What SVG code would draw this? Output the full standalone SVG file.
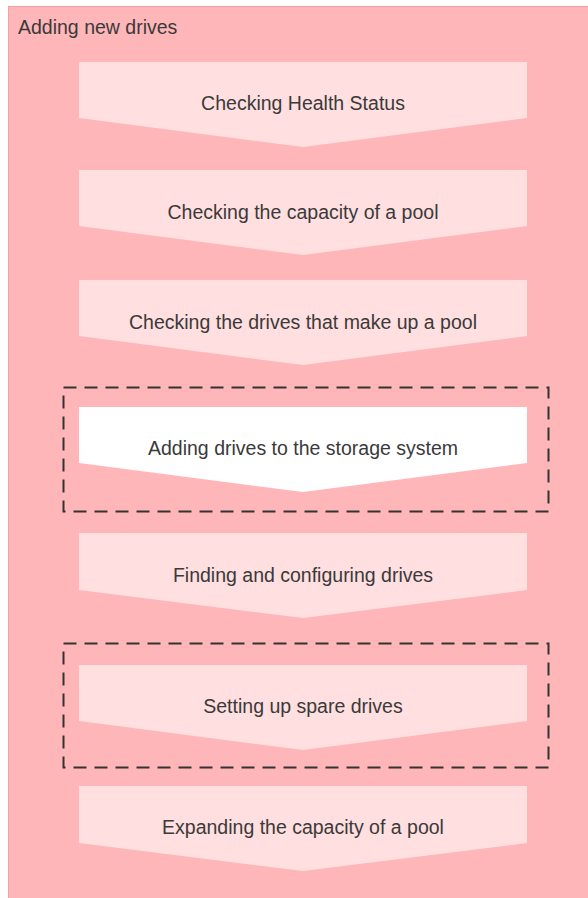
<svg xmlns="http://www.w3.org/2000/svg" width="588" height="898" viewBox="0 0 588 898">
<style>
.t{font-family:"Liberation Sans",Arial,sans-serif;font-size:19.5px;fill:#3a3a3a;text-anchor:middle}
.title{font-family:"Liberation Sans",Arial,sans-serif;font-size:19.5px;fill:#3a3a3a}
.step{fill:#ffdfe0}
.cur{fill:#ffffff}
.dash{fill:none;stroke:#333;stroke-width:2;stroke-dasharray:13,8}
</style>
<rect width="588" height="898" fill="#ffffff"/>
<g id="container">
<rect x="8.5" y="6.5" width="590" height="900" fill="#ffb6b8" stroke="#ff9c9e" stroke-width="1"/>
<text class="title" x="18" y="34">Adding new drives</text>
</g>
<g id="connectors">
<rect class="dash" x="63.5" y="387.5" width="485" height="124"/>
<rect class="dash" x="63.5" y="643.5" width="485" height="124"/>
</g>
<g id="n1"><polygon class="step" points="79,62 527,62 527,118 303,147 79,118"/><text class="t" x="303" y="110">Checking Health Status</text></g>
<g id="n2"><polygon class="step" points="79,170 527,170 527,226 303,255 79,226"/><text class="t" x="303" y="219">Checking the capacity of a pool</text></g>
<g id="n3"><polygon class="step" points="79,280 527,280 527,336 303,365 79,336"/><text class="t" x="303" y="329">Checking the drives that make up a pool</text></g>
<g id="n4"><polygon class="cur" points="79,407 527,407 527,463 303,492 79,463"/><text class="t" x="303" y="455">Adding drives to the storage system</text></g>
<g id="n5"><polygon class="step" points="79,533 527,533 527,590 303,618 79,590"/><text class="t" x="303" y="582">Finding and configuring drives</text></g>
<g id="n6"><polygon class="step" points="79,665 527,665 527,721 303,750 79,721"/><text class="t" x="303" y="713">Setting up spare drives</text></g>
<g id="n7"><polygon class="step" points="79,786 527,786 527,843 303,871 79,843"/><text class="t" x="303" y="834">Expanding the capacity of a pool</text></g>
</svg>
